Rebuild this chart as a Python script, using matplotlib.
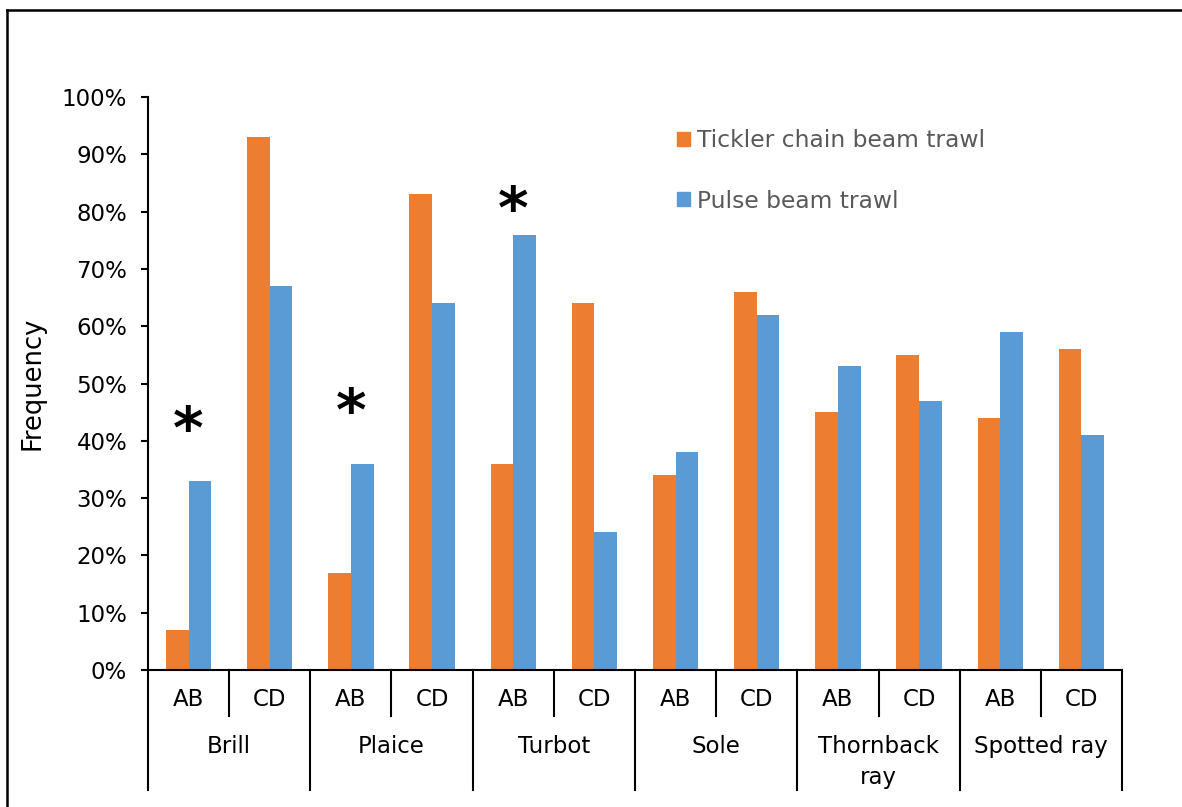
import matplotlib.pyplot as plt
from matplotlib.lines import Line2D
from matplotlib.patches import Patch
import numpy as np

species = ["Brill", "Plaice", "Turbot", "Sole", "Thornback\nray", "Spotted ray"]
zones = ["AB", "CD"]
tickler = [7, 93, 17, 83, 36, 64, 34, 66, 45, 55, 44, 56]
pulse = [33, 67, 36, 64, 76, 24, 38, 62, 53, 47, 59, 41]
# significance marks: category index and height (%)
star_idx = [0, 2, 4]
star_y = [41.7, 44.7, 80.0]

orange = "#ED7D31"
blue = "#5B9BD5"
fs = 16.5

plt.rcParams['font.family'] = ['DejaVu Sans']
fig = plt.figure(figsize=(11.82, 8.07), dpi=100)
ax = fig.add_axes([148 / 1182, 1 - 670 / 807, 974 / 1182, 573 / 807])

x = np.arange(len(tickler))
w = 0.28
ax.bar(x - w / 2, tickler, w, color=orange)
ax.bar(x + w / 2, pulse, w, color=blue)

ax.set_xlim(-0.5, len(tickler) - 0.5)
ax.set_ylim(0, 100)
ax.set_yticks(range(0, 101, 10))
ax.set_yticklabels([f"{v}%" for v in range(0, 101, 10)], fontsize=fs)
ax.set_xticks([])
ax.tick_params(axis='y', length=5, width=1.5, pad=10)
for s in ["top", "right"]:
    ax.spines[s].set_visible(False)
for s in ["left", "bottom"]:
    ax.spines[s].set_linewidth(1.5)
ax.set_ylabel("Frequency", fontsize=18.5, labelpad=12)

# two-level category axis
tr = ax.get_xaxis_transform()
for i in range(len(tickler) + 1):
    bottom = -0.209 if i % 2 == 0 else -0.080
    ax.plot([i - 0.5, i - 0.5], [0, bottom], color="black", lw=1.5,
            transform=tr, clip_on=False)
for i in x:
    ax.text(i, -0.052, zones[i % 2], transform=tr, ha="center", va="center",
            fontsize=fs)
for j, name in enumerate(species):
    ax.text(2 * j + 0.5, -0.114, name, transform=tr, ha="center", va="top",
            fontsize=fs, linespacing=1.42)

for i, y in zip(star_idx, star_y):
    ax.text(i, y, "*", ha="center", va="center", fontsize=42,
            fontweight="bold")

handles = [Patch(color=orange), Patch(color=blue)]
leg = ax.legend(handles, ["Tickler chain beam trawl", "Pulse beam trawl"],
                loc="upper left", bbox_to_anchor=(668 / 1182, 1 - 120 / 807),
                bbox_transform=fig.transFigure, frameon=False, fontsize=16.8,
                handlelength=0.55, handleheight=0.55, handletextpad=0.3,
                labelspacing=1.6, borderaxespad=0)
for t in leg.get_texts():
    t.set_color("#595959")

# outer frame (top and left)
fig.add_artist(Line2D([7 / 1182, 1], [1 - 10 / 807, 1 - 10 / 807],
                      color="black", lw=1.8, transform=fig.transFigure))
fig.add_artist(Line2D([7 / 1182, 7 / 1182], [0, 1 - 10 / 807],
                      color="black", lw=1.8, transform=fig.transFigure))

fig.savefig("out.png", dpi=100)
